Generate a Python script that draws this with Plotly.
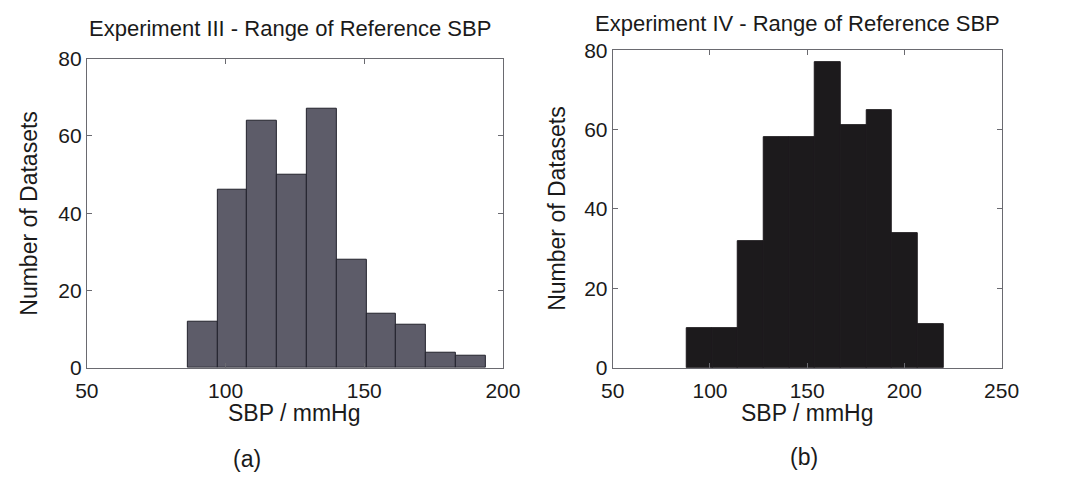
import plotly.graph_objects as go

W, H = 1075, 496

# ---- data ----
left_edges = [86.3, 97.05, 107.8, 118.55, 129.3, 140.05, 150.8, 161.55, 172.3, 183.05, 193.8]
left_counts = [12, 46, 64, 50, 67, 28, 14, 11, 4, 3]

right_edges = [88.0, 101.2, 114.4, 127.6, 140.8, 154.0, 167.2, 180.4, 193.6, 206.8, 220.0]
right_counts = [10, 10, 32, 58, 58, 77, 61, 65, 34, 11]

left_title = "Experiment III - Range of Reference SBP"
right_title = "Experiment IV - Range of Reference SBP"
x_title = "SBP / mmHg"
y_title = "Number of Datasets"
left_xticks = [50, 100, 150, 200]
right_xticks = [50, 100, 150, 200, 250]
yticks = [0, 20, 40, 60, 80]

FONT = "Liberation Sans, Arial, sans-serif"
TXT = "#1a1a1a"


def px_x(p):
    return p / W


def px_y(p):
    return 1 - p / H


def bar_trace(edges, counts, fill, line, xa, ya):
    centers = [(a + b) / 2 for a, b in zip(edges[:-1], edges[1:])]
    widths = [b - a for a, b in zip(edges[:-1], edges[1:])]
    return go.Bar(x=centers, y=counts, width=widths, marker=dict(color=fill, line=dict(color=line, width=1)),
                  xaxis=xa, yaxis=ya, showlegend=False, hoverinfo="x+y")


fig = go.Figure()
fig.add_trace(bar_trace(left_edges, left_counts, "#5d5c69", "#22222c", "x", "y"))
fig.add_trace(bar_trace(right_edges, right_counts, "#1c1a1c", "#1c1a1c", "x2", "y2"))

axis_common = dict(showline=True, mirror="ticks", linecolor="#6a6a70", linewidth=1, ticks="inside",
                   ticklen=5, tickcolor="#6a6a70", showgrid=False, zeroline=False,
                   tickfont=dict(family=FONT, size=21, color=TXT))

fig.update_layout(
    width=W, height=H, margin=dict(l=0, r=0, t=0, b=0), paper_bgcolor="white", plot_bgcolor="white",
    bargap=0,
    xaxis=dict(domain=[px_x(77), px_x(505)], range=[50, 200], tickvals=left_xticks, anchor="y",
               ticklabelstandoff=4, **axis_common),
    yaxis=dict(domain=[px_y(373), px_y(49)], range=[0, 80], tickvals=yticks, anchor="x", **axis_common),
    xaxis2=dict(domain=[px_x(618), px_x(1018)], range=[50, 250], tickvals=right_xticks, anchor="y2",
                ticklabelstandoff=4, **axis_common),
    yaxis2=dict(domain=[px_y(373), px_y(40)], range=[0, 80], tickvals=yticks, anchor="x2", **axis_common),
)

ann = [
    (left_title, 286, 17, 0, 22),
    (right_title, 808, 12, 0, 22),
    (x_title, 291, 421, 0, 23),
    (x_title, 818, 421, 0, 23),
    (y_title, 18, 211, -90, 23),
    (y_title, 561, 206, -90, 23),
    ("(a)", 242, 469, 0, 23),
    ("(b)", 815, 467, 0, 23),
]
for text, x, y, rot, size in ann:
    fig.add_annotation(text=text, x=px_x(x), y=px_y(y), xref="paper", yref="paper", showarrow=False,
                       xanchor="center", yanchor="middle", textangle=rot,
                       font=dict(family=FONT, size=size, color=TXT))

fig.write_html("out.html")
